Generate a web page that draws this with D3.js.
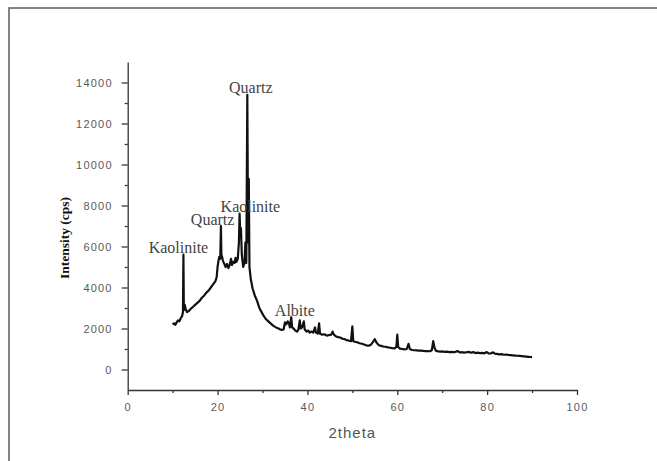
<!DOCTYPE html>
<html>
<head>
<meta charset="utf-8">
<script src="https://cdn.jsdelivr.net/npm/d3@7"></script>
<style>
  body { margin: 0; background: #fff; }
  .tick text { font-family: "Liberation Sans", Arial, sans-serif; font-size: 11px; fill: #5a5a5a; letter-spacing: 1.2px; }
  .axis path, .axis line { stroke: #333; stroke-width: 1.3; }
</style>
</head>
<body>
<div id="chart"></div>
<script>
// XRD pattern
var twoTheta = [10.0, 10.3, 10.6, 10.9, 11.2, 11.5, 11.8, 12.1, 12.3, 12.4, 12.5, 12.7, 12.9, 13.2, 13.6, 14.0, 14.5, 15.0, 15.5, 16.0,
  16.5, 17.0, 17.5, 18.0, 18.5, 19.0, 19.5, 19.8, 20.0, 20.2, 20.4, 20.6, 20.75, 20.85, 21.0, 21.2, 21.5, 21.8, 22.1, 22.4,
  22.7, 23.0, 23.2, 23.5, 23.8, 24.0, 24.2, 24.5, 24.75, 24.9, 25.05, 25.2, 25.4, 25.7, 26.0, 26.2, 26.4, 26.62, 26.8, 26.95,
  27.1, 27.4, 27.8, 28.3, 28.8, 29.3, 29.8, 30.3, 30.8, 31.3, 31.8, 32.3, 32.8, 33.3, 33.8, 34.3, 34.7, 35.0, 35.3, 35.6,
  35.9, 36.1, 36.4, 36.6, 36.9, 37.3, 37.7, 38.0, 38.3, 38.5, 38.8, 39.2, 39.4, 39.8, 40.2, 40.5, 40.9, 41.3, 41.7, 41.9,
  42.3, 42.6, 42.8, 43.3, 43.8, 44.3, 44.8, 45.3, 45.6, 45.9, 46.3, 46.8, 47.3, 47.8, 48.3, 48.8, 49.3, 49.7, 50.0, 50.2,
  50.6, 51.1, 51.6, 52.1, 52.6, 53.1, 53.6, 54.1, 54.6, 55.0, 55.4, 55.9, 56.4, 56.9, 57.4, 57.9, 58.4, 58.9, 59.4, 59.8,
  60.0, 60.2, 60.6, 61.1, 61.6, 62.1, 62.5, 62.8, 63.3, 63.8, 64.3, 64.8, 65.3, 65.8, 66.3, 66.8, 67.3, 67.7, 68.0, 68.3,
  68.6, 69.1, 69.6, 70.1, 70.6, 71.1, 71.6, 72.1, 72.6, 73.1, 73.5, 73.9, 74.4, 74.9, 75.4, 75.9, 76.4, 76.9, 77.4, 77.9,
  78.4, 78.9, 79.4, 79.9, 80.3, 80.8, 81.3, 81.7, 82.2, 82.7, 83.2, 83.7, 84.2, 84.7, 85.2, 85.7, 86.2, 86.7, 87.2, 87.7,
  88.2, 88.7, 89.2, 89.6, 90.0];
var intensity = [2200, 2250, 2180, 2300, 2400, 2350, 2500, 2600, 2800, 5600, 2900, 3150, 2950, 2800, 2850, 2950, 3050, 3150, 3250, 3350,
  3500, 3600, 3750, 3850, 4000, 4150, 4300, 4500, 5000, 5300, 5500, 5400, 7000, 5600, 5500, 5300, 5150, 5000, 5150, 4950,
  5100, 5400, 5100, 5250, 5200, 5450, 5250, 5400, 6200, 7600, 6600, 6900, 5600, 5000, 5200, 6200, 5200, 13400, 6200, 9300,
  5000, 4400, 3950, 3600, 3350, 3000, 2800, 2600, 2450, 2350, 2250, 2150, 2080, 2020, 1970, 1930, 1950, 2300, 2200, 2350,
  2250, 2050, 2550, 2050, 2000, 1900, 1850, 1950, 2400, 2000, 2050, 2350, 1950, 1850, 1900, 1800, 1850, 1800, 2050, 1800,
  1750, 2250, 1750, 1700, 1720, 1650, 1680, 1700, 1850, 1700, 1620, 1580, 1560, 1500, 1480, 1430, 1400, 1380, 2100, 1380,
  1350, 1330, 1280, 1260, 1220, 1180, 1160, 1200, 1350, 1480, 1300, 1180, 1150, 1120, 1110, 1080, 1060, 1040, 1030, 1100,
  1700, 1100, 1020, 1000, 980, 1000, 1250, 1000, 950, 940, 930, 920, 925, 910, 900, 900, 890, 950, 1380, 1050,
  920, 880, 870, 880, 860, 870, 850, 860, 840, 870, 900, 830, 850, 820, 840, 860, 820, 850, 800, 820,
  800, 810, 790, 850, 790, 780, 840, 770, 760, 740, 750, 720, 730, 710, 700, 690, 680, 670, 660, 650,
  640, 630, 620, 610, 600];

var xTicks = [0, 20, 40, 60, 80, 100];
var xMinor = [10, 30, 50, 70, 90];
var yTicks = [0, 2000, 4000, 6000, 8000, 10000, 12000, 14000];
var yMinor = [1000, 3000, 5000, 7000, 9000, 11000, 13000];

var peakNames = ["Kaolinite", "Quartz", "Kaolinite", "Quartz", "Albite"];
var peakX = [11.3, 18.9, 27.3, 27.4, 37.2];
var peakY = [5700, 7070, 7700, 13500, 2630];

var margin = { top: 62, right: 80, bottom: 71, left: 127.7 },
    width = 657 - margin.left - margin.right,
    height = 461 - margin.top - margin.bottom;

var xscale = d3.scaleLinear().domain([0, 100]).range([0, width]);
var yscale = d3.scaleLinear().domain([-1000, 15000]).range([height, 0]);

var combined = twoTheta.map(function (t, i) { return { theta: t, cps: intensity[i] }; });

var line = d3.line()
    .x(function (d) { return xscale(d.theta); })
    .y(function (d) { return yscale(d.cps); });

var root = d3.select("#chart").append("svg")
    .attr("width", 657)
    .attr("height", 461);

// frame round the figure
root.append("rect")
    .attr("x", 9).attr("y", 8)
    .attr("width", 700).attr("height", 500)
    .attr("fill", "none")
    .attr("stroke", "#666")
    .attr("stroke-width", 1.6);

var svg = root.append("g")
    .attr("transform", "translate(" + margin.left + "," + margin.top + ")");

svg.append("g")
    .attr("class", "axis")
    .attr("transform", "translate(0," + height + ")")
    .call(d3.axisBottom(xscale).tickValues(xTicks).tickSize(5).tickSizeOuter(0).tickPadding(8).tickFormat(d3.format("d")));

svg.append("g")
    .attr("class", "axis")
    .attr("transform", "translate(0," + height + ")")
    .call(d3.axisBottom(xscale).tickValues(xMinor).tickSize(3).tickFormat(""))
    .select(".domain").remove();

svg.append("g")
    .attr("class", "axis")
    .call(d3.axisLeft(yscale).tickValues(yTicks).tickSize(6).tickSizeOuter(0).tickPadding(9).tickFormat(d3.format("d")));

svg.append("g")
    .attr("class", "axis")
    .call(d3.axisLeft(yscale).tickValues(yMinor).tickSize(3).tickFormat(""))
    .select(".domain").remove();

// X label
svg.append("text")
    .attr("x", width / 2)
    .attr("y", height + 48)
    .attr("text-anchor", "middle")
    .style("font-family", "Liberation Sans, Arial, sans-serif")
    .style("font-size", "15px")
    .style("letter-spacing", "1px")
    .style("fill", "#555")
    .text("2theta");

// Y label
svg.append("text")
    .attr("text-anchor", "middle")
    .attr("transform", "translate(-59," + (238 - margin.top) + ")rotate(-90)")
    .style("font-family", "Liberation Serif, Times New Roman, serif")
    .style("font-weight", "bold")
    .style("font-size", "13.5px")
    .style("fill", "#111")
    .text("Intensity (cps)");

svg.append("path")
    .datum(combined)
    .attr("fill", "none")
    .attr("stroke", "#111")
    .attr("stroke-width", 2.2)
    .attr("stroke-linejoin", "round")
    .attr("d", line);

svg.selectAll(".peak")
    .data(peakNames)
    .enter().append("text")
    .attr("class", "peak")
    .attr("x", function (d, i) { return xscale(peakX[i]); })
    .attr("y", function (d, i) { return yscale(peakY[i]); })
    .attr("text-anchor", "middle")
    .style("font-family", "Liberation Serif, Times New Roman, serif")
    .style("font-size", "16px")
    .style("fill", "#444")
    .text(function (d) { return d; });
</script>
</body>
</html>
